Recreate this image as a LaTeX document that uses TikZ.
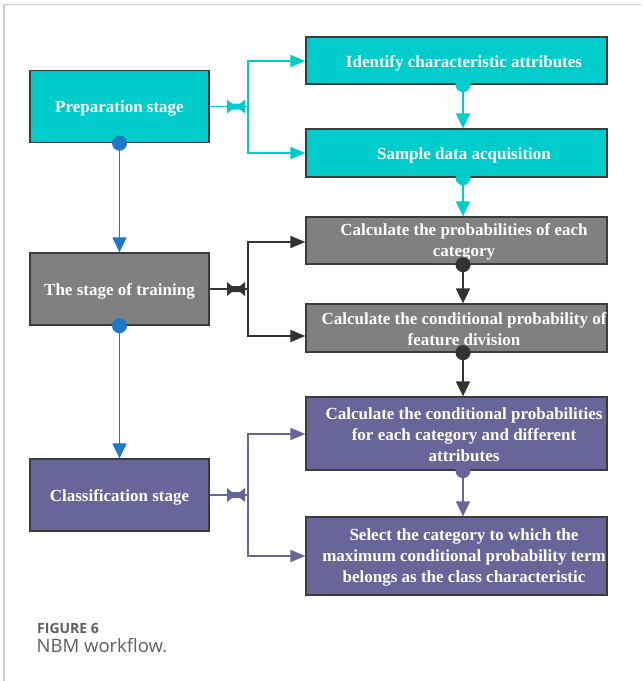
\documentclass[tikz,border=0pt]{standalone}
\usepackage{fontspec}
\setmainfont{Liberation Serif}
\newfontfamily\capfont{Open Sans}
\usetikzlibrary{arrows.meta}
\definecolor{tealbox}{RGB}{0,204,204}
\definecolor{greybox}{RGB}{128,128,128}
\definecolor{purplebox}{RGB}{102,102,153}
\definecolor{flowblue}{RGB}{30,120,200}
\definecolor{darkline}{RGB}{51,51,51}
\definecolor{edgecol}{RGB}{60,60,60}
\definecolor{framecol}{RGB}{205,205,205}
\definecolor{captext}{RGB}{95,95,95}
\tikzset{
  x=1pt, y=-1pt,
  box/.style={draw=edgecol, line width=1.3pt, inner sep=0pt},
  boxtext/.style={inner sep=0pt, align=center, text=white,
    font=\fontsize{17}{21}\selectfont\bfseries},
  stagebox/.style={box, minimum width=179pt, minimum height=72pt},
  taskbox/.style={box, minimum width=301pt},
  flow/.style={line width=1.8pt, -{Triangle[length=15pt,width=12pt]}},
  vflow/.style={line width=1.6pt, -{Triangle[length=15pt,width=14pt]}},
  dot/.style={circle, inner sep=0pt, minimum size=15pt},
}
% bow-tie marker placed on a branch stem, centred at x
\newcommand{\stemtie}[3]{%
  \fill[#3] (#1-9,#2-7) -- (#1-4,#2-3) -- (#1+4,#2-3) -- (#1+9,#2-7) -- (#1+9,#2+7) -- (#1+4,#2+3) -- (#1-4,#2+3) -- (#1-9,#2+7) -- cycle;}
\begin{document}
\begin{tikzpicture}
\useasboundingbox (0,0) rectangle (641,681);
\fill[white] (0,0) rectangle (641,681);
% frame
\draw[framecol, line width=1.5pt] (4,681) -- (4,4.5) -- (641,4.5);

% stage boxes
\node[stagebox, fill=tealbox] (prep) at (119.5,106.5) {};
\node[stagebox, fill=greybox] (train) at (119.5,289) {};
\node[stagebox, fill=purplebox] (cls) at (119.5,495) {};
\node[boxtext] (preptext) at ([yshift=-2pt]prep.center) {Preparation stage};
\node[boxtext] (traintext) at ([yshift=-2pt]train.center) {The stage of training};
\node[boxtext] (clstext) at ([yshift=-2pt]cls.center) {Classification stage};

% task boxes
\node[taskbox, fill=tealbox, minimum height=47pt] (ident) at (456.5,60.5) {};
\node[taskbox, fill=tealbox, minimum height=48pt] (sample) at (456.5,153) {};
\node[taskbox, fill=greybox, minimum height=47pt] (prob) at (456.5,240.5) {};
\node[taskbox, fill=greybox, minimum height=48pt] (cond) at (456.5,328) {};
\node[taskbox, fill=purplebox, minimum height=73pt] (cprob) at (456.5,433.5) {};
\node[taskbox, fill=purplebox, minimum height=78pt] (select) at (456.5,556) {};
\node[boxtext] (identtext) at ([xshift=7.5pt,yshift=-2.5pt]ident.center) {Identify characteristic attributes};
\node[boxtext] (sampletext) at ([xshift=7.5pt,yshift=-2.5pt]sample.center) {Sample data acquisition};
\node[boxtext] (probtext) at ([xshift=7.5pt,yshift=-1.5pt]prob.center) {Calculate the probabilities of each\\category};
\node[boxtext] (condtext) at ([xshift=7.5pt,yshift=-1.5pt]cond.center) {Calculate the conditional probability of\\feature division};
\node[boxtext] (cprobtext) at ([xshift=7.5pt,yshift=-1.5pt]cprob.center) {Calculate the conditional probabilities\\for each category and different\\attributes};
\node[boxtext] (selecttext) at ([xshift=7.5pt,yshift=-1.5pt]select.center) {Select the category to which the\\maximum conditional probability term\\belongs as the class characteristic};

% branch coordinates
\coordinate (pj) at (248,106.5);
\coordinate (tj) at (248,289);
\coordinate (cj) at (248,495);

% preparation branches
\draw[tealbox, line width=1.8pt] (prep.east) -- (pj);
\draw[tealbox, flow] (pj) |- (ident.west |- 0,61);
\draw[tealbox, flow] (pj) |- (sample.west |- 0,153);
\stemtie{236}{106.5}{tealbox}

% training branches
\draw[darkline, line width=1.8pt] (train.east) -- (tj);
\draw[darkline, flow] (tj) |- (prob.west |- 0,242);
\draw[darkline, flow] (tj) |- (cond.west |- 0,336);
\stemtie{236}{289}{darkline}

% classification branches
\draw[purplebox, line width=1.8pt] (cls.east) -- (cj);
\draw[purplebox, flow] (cj) |- (cprob.west |- 0,434);
\draw[purplebox, flow] (cj) |- (select.west |- 0,556);
\stemtie{236}{495}{purplebox}

% stage sequence
\node[dot, fill=flowblue] (d1) at (prep.south) {};
\node[dot, fill=flowblue] (d2) at (train.south) {};
\draw[flowblue, vflow, line width=1.2pt] (d1.center) -- (train.north);
\draw[flowblue, vflow, line width=1.2pt] (d2.center) -- (cls.north);

% task sequence
\node[dot, fill=tealbox] (e1) at ([xshift=6.5pt]ident.south) {};
\node[dot, fill=tealbox] (e2) at ([xshift=6.5pt]sample.south) {};
\node[dot, fill=darkline] (e3) at ([xshift=6.5pt]prob.south) {};
\node[dot, fill=darkline] (e4) at ([xshift=6.5pt]cond.south) {};
\node[dot, fill=purplebox] (e5) at ([xshift=6.5pt]cprob.south) {};
\draw[tealbox, vflow, line width=1.8pt] (e1.center) -- ([xshift=6.5pt]sample.north);
\draw[tealbox, vflow, line width=1.8pt] (e2.center) -- ([xshift=6.5pt]prob.north);
\draw[darkline, vflow, line width=1.8pt] (e3.center) -- ([xshift=6.5pt]cond.north);
\draw[darkline, vflow, line width=1.8pt] (e4.center) -- ([xshift=6.5pt]cprob.north);
\draw[purplebox, vflow, line width=1.8pt] (e5.center) -- ([xshift=6.5pt]select.north);

% caption
\node[anchor=base west, inner sep=0pt, text=captext, font=\capfont\fontsize{14}{16}\selectfont\bfseries] (fig) at (37,633) {FIGURE 6};
\node[anchor=base west, inner sep=0pt, text=captext, font=\capfont\fontsize{18.5}{20}\selectfont] (cap) at (36.5,652) {NBM workflow.};
\end{tikzpicture}
\end{document}
